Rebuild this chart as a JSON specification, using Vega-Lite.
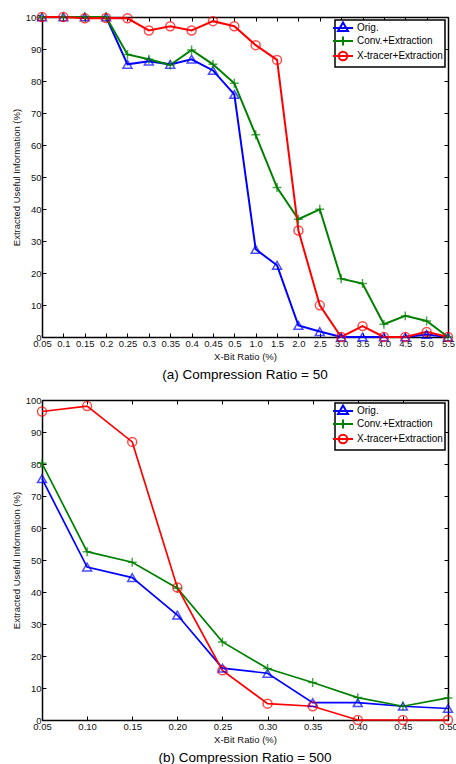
{
  "$schema": "https://vega.github.io/schema/vega-lite/v6.json",
  "padding": {"left": 10, "top": 9, "right": 4, "bottom": 0},
  "background": "white",
  "datasets": {
    "a": [
      {"x": "0.05", "series": "Orig.", "y": 100}, {"x": "0.1", "series": "Orig.", "y": 100}, {"x": "0.15", "series": "Orig.", "y": 100}, {"x": "0.2", "series": "Orig.", "y": 100}, {"x": "0.25", "series": "Orig.", "y": 85.2}, {"x": "0.3", "series": "Orig.", "y": 86.2}, {"x": "0.35", "series": "Orig.", "y": 85.2}, {"x": "0.4", "series": "Orig.", "y": 86.8}, {"x": "0.45", "series": "Orig.", "y": 83.3}, {"x": "0.5", "series": "Orig.", "y": 75.8}, {"x": "1.0", "series": "Orig.", "y": 27.4}, {"x": "1.5", "series": "Orig.", "y": 22.4}, {"x": "2.0", "series": "Orig.", "y": 3.6}, {"x": "2.5", "series": "Orig.", "y": 1.7}, {"x": "3.0", "series": "Orig.", "y": 0}, {"x": "3.5", "series": "Orig.", "y": 0}, {"x": "4.0", "series": "Orig.", "y": 0}, {"x": "4.5", "series": "Orig.", "y": 0}, {"x": "5.0", "series": "Orig.", "y": 0.8}, {"x": "5.5", "series": "Orig.", "y": 0},
      {"x": "0.05", "series": "Conv.+Extraction", "y": 100}, {"x": "0.1", "series": "Conv.+Extraction", "y": 100}, {"x": "0.15", "series": "Conv.+Extraction", "y": 100}, {"x": "0.2", "series": "Conv.+Extraction", "y": 100}, {"x": "0.25", "series": "Conv.+Extraction", "y": 88.3}, {"x": "0.3", "series": "Conv.+Extraction", "y": 86.8}, {"x": "0.35", "series": "Conv.+Extraction", "y": 85}, {"x": "0.4", "series": "Conv.+Extraction", "y": 89.7}, {"x": "0.45", "series": "Conv.+Extraction", "y": 85.2}, {"x": "0.5", "series": "Conv.+Extraction", "y": 79.3}, {"x": "1.0", "series": "Conv.+Extraction", "y": 63.2}, {"x": "1.5", "series": "Conv.+Extraction", "y": 46.7}, {"x": "2.0", "series": "Conv.+Extraction", "y": 36.8}, {"x": "2.5", "series": "Conv.+Extraction", "y": 39.9}, {"x": "3.0", "series": "Conv.+Extraction", "y": 18.2}, {"x": "3.5", "series": "Conv.+Extraction", "y": 16.7}, {"x": "4.0", "series": "Conv.+Extraction", "y": 4.0}, {"x": "4.5", "series": "Conv.+Extraction", "y": 6.6}, {"x": "5.0", "series": "Conv.+Extraction", "y": 5.0}, {"x": "5.5", "series": "Conv.+Extraction", "y": 0},
      {"x": "0.05", "series": "X-tracer+Extraction", "y": 100}, {"x": "0.1", "series": "X-tracer+Extraction", "y": 100}, {"x": "0.15", "series": "X-tracer+Extraction", "y": 99.6}, {"x": "0.2", "series": "X-tracer+Extraction", "y": 99.7}, {"x": "0.25", "series": "X-tracer+Extraction", "y": 99.6}, {"x": "0.3", "series": "X-tracer+Extraction", "y": 95.8}, {"x": "0.35", "series": "X-tracer+Extraction", "y": 97.1}, {"x": "0.4", "series": "X-tracer+Extraction", "y": 95.8}, {"x": "0.45", "series": "X-tracer+Extraction", "y": 98.7}, {"x": "0.5", "series": "X-tracer+Extraction", "y": 97.1}, {"x": "1.0", "series": "X-tracer+Extraction", "y": 91.2}, {"x": "1.5", "series": "X-tracer+Extraction", "y": 86.6}, {"x": "2.0", "series": "X-tracer+Extraction", "y": 33.3}, {"x": "2.5", "series": "X-tracer+Extraction", "y": 9.9}, {"x": "3.0", "series": "X-tracer+Extraction", "y": 0}, {"x": "3.5", "series": "X-tracer+Extraction", "y": 3.4}, {"x": "4.0", "series": "X-tracer+Extraction", "y": 0}, {"x": "4.5", "series": "X-tracer+Extraction", "y": 0}, {"x": "5.0", "series": "X-tracer+Extraction", "y": 1.6}, {"x": "5.5", "series": "X-tracer+Extraction", "y": 0}
    ],
    "b": [
      {"x": 0.05, "series": "Orig.", "y": 75.4}, {"x": 0.10, "series": "Orig.", "y": 47.8}, {"x": 0.15, "series": "Orig.", "y": 44.5}, {"x": 0.20, "series": "Orig.", "y": 32.8}, {"x": 0.25, "series": "Orig.", "y": 16.2}, {"x": 0.30, "series": "Orig.", "y": 14.6}, {"x": 0.35, "series": "Orig.", "y": 5.4}, {"x": 0.40, "series": "Orig.", "y": 5.4}, {"x": 0.45, "series": "Orig.", "y": 4.3}, {"x": 0.50, "series": "Orig.", "y": 3.6},
      {"x": 0.05, "series": "Conv.+Extraction", "y": 80.2}, {"x": 0.10, "series": "Conv.+Extraction", "y": 52.6}, {"x": 0.15, "series": "Conv.+Extraction", "y": 49.3}, {"x": 0.20, "series": "Conv.+Extraction", "y": 41.2}, {"x": 0.25, "series": "Conv.+Extraction", "y": 24.4}, {"x": 0.30, "series": "Conv.+Extraction", "y": 16.1}, {"x": 0.35, "series": "Conv.+Extraction", "y": 11.7}, {"x": 0.40, "series": "Conv.+Extraction", "y": 7.0}, {"x": 0.45, "series": "Conv.+Extraction", "y": 4.3}, {"x": 0.50, "series": "Conv.+Extraction", "y": 6.9},
      {"x": 0.05, "series": "X-tracer+Extraction", "y": 96.4}, {"x": 0.10, "series": "X-tracer+Extraction", "y": 98.1}, {"x": 0.15, "series": "X-tracer+Extraction", "y": 86.9}, {"x": 0.20, "series": "X-tracer+Extraction", "y": 41.4}, {"x": 0.25, "series": "X-tracer+Extraction", "y": 15.5}, {"x": 0.30, "series": "X-tracer+Extraction", "y": 5.1}, {"x": 0.35, "series": "X-tracer+Extraction", "y": 4.3}, {"x": 0.40, "series": "X-tracer+Extraction", "y": 0}, {"x": 0.45, "series": "X-tracer+Extraction", "y": 0}, {"x": 0.50, "series": "X-tracer+Extraction", "y": 0}
    ]
  },
  "config": {
    "font": "Liberation Sans",
    "view": {"stroke": "black", "strokeWidth": 1},
    "axis": {
      "domainColor": "black", "domainWidth": 1.5, "tickColor": "black", "tickWidth": 1,
      "tickSize": -4, "labelPadding": 5, "labelColor": "#111", "labelFontSize": 9.5,
      "titleFontSize": 9.5, "titleFontWeight": "normal", "titleColor": "#111",
      "grid": false, "labelFlush": false, "labelOverlap": false, "labelBound": false, "titlePadding": 4
    },
    "legend": {
      "orient": "top-right", "offset": 3, "strokeColor": "black", "strokeWidth": 1.5,
      "fillColor": "white", "padding": 2, "labelFontSize": 10, "labelColor": "black",
      "symbolSize": 100, "symbolStrokeWidth": 2, "rowPadding": -4, "labelOffset": 8,
      "symbolOpacity": 1, "symbolFillColor": "transparent"
    },
    "title": {"fontSize": 13.5, "fontWeight": "normal", "color": "black", "orient": "bottom", "offset": 7, "frame": "group"}
  },
  "spacing": 12,
  "vconcat": [
    {
      "width": 406, "height": 320,
      "data": {"name": "a"},
      "title": {"text": "(a) Compression Ratio = 50"},
      "layer": [
        {
          "mark": {"type": "line", "strokeWidth": 2},
          "encoding": {
            "x": {"field": "x", "type": "ordinal", "sort": null, "scale": {"type": "point", "padding": 0}, "axis": {"orient": "bottom", "labelAngle": 0, "title": "X-Bit Ratio (%)"}},
            "y": {"field": "y", "type": "quantitative", "scale": {"domain": [0, 100], "nice": false}, "axis": {"orient": "left", "values": [0, 10, 20, 30, 40, 50, 60, 70, 80, 90, 100], "title": "Extracted Useful Information (%)"}},
            "stroke": {"field": "series", "type": "nominal", "scale": {"domain": ["Orig.", "Conv.+Extraction", "X-tracer+Extraction"], "range": ["#0000ff", "#008000", "#ff0000"]}, "legend": null}
          }
        },
        {
          "mark": {"type": "point", "filled": false, "strokeWidth": 1.5, "size": 80},
          "encoding": {
            "x": {"field": "x", "type": "ordinal", "sort": null, "axis": {"orient": "top", "labels": false, "title": null}},
            "y": {"field": "y", "type": "quantitative", "axis": {"orient": "right", "labels": false, "title": null, "values": [0, 10, 20, 30, 40, 50, 60, 70, 80, 90, 100]}},
            "stroke": {"field": "series", "type": "nominal", "legend": null},
            "shape": {"field": "series", "type": "nominal", "scale": {"domain": ["Orig.", "Conv.+Extraction", "X-tracer+Extraction"], "range": ["triangle-up", "M-1,0H1M0,-1V1", "circle"]}, "legend": null}
          }
        },
        {
          "mark": {"type": "point", "filled": false, "opacity": 0},
          "encoding": {
            "x": {"field": "x", "type": "ordinal", "sort": null, "axis": null},
            "y": {"field": "y", "type": "quantitative", "axis": null},
            "color": {"field": "series", "type": "nominal", "scale": {"domain": ["Orig.", "Conv.+Extraction", "X-tracer+Extraction"], "range": ["#0000ff", "#008000", "#ff0000"]}, "legend": {"title": null}},
            "shape": {"field": "series", "type": "nominal", "scale": {"domain": ["Orig.", "Conv.+Extraction", "X-tracer+Extraction"], "range": ["M-2,0H2M0,-1.1L1,0.6H-1Z", "M-2,0H2M0,-0.9V0.9", "M-2,0H2M0.85,0A0.85,0.85,0,0,1,-0.85,0A0.85,0.85,0,0,1,0.85,0"]}, "legend": {"title": null}}
          }
        }
      ],
      "resolve": {"axis": {"x": "independent", "y": "independent"}, "scale": {"shape": "independent", "color": "independent"}, "legend": {"shape": "independent", "color": "independent"}}
    },
    {
      "width": 406, "height": 320,
      "data": {"name": "b"},
      "title": {"text": "(b) Compression Ratio = 500"},
      "layer": [
        {
          "mark": {"type": "line", "strokeWidth": 1.7},
          "encoding": {
            "x": {"field": "x", "type": "quantitative", "scale": {"domain": [0.05, 0.5], "nice": false, "zero": false}, "axis": {"orient": "bottom", "values": [0.05, 0.1, 0.15, 0.2, 0.25, 0.3, 0.35, 0.4, 0.45, 0.5], "format": ".2f", "title": "X-Bit Ratio (%)"}},
            "y": {"field": "y", "type": "quantitative", "scale": {"domain": [0, 100], "nice": false}, "axis": {"orient": "left", "values": [0, 10, 20, 30, 40, 50, 60, 70, 80, 90, 100], "title": "Extracted Useful Information (%)"}},
            "stroke": {"field": "series", "type": "nominal", "scale": {"domain": ["Orig.", "Conv.+Extraction", "X-tracer+Extraction"], "range": ["#0000ff", "#008000", "#ff0000"]}, "legend": null}
          }
        },
        {
          "mark": {"type": "point", "filled": false, "strokeWidth": 1.5, "size": 80},
          "encoding": {
            "x": {"field": "x", "type": "quantitative", "axis": {"orient": "top", "labels": false, "title": null, "values": [0.05, 0.1, 0.15, 0.2, 0.25, 0.3, 0.35, 0.4, 0.45, 0.5]}},
            "y": {"field": "y", "type": "quantitative", "axis": {"orient": "right", "labels": false, "title": null, "values": [0, 10, 20, 30, 40, 50, 60, 70, 80, 90, 100]}},
            "stroke": {"field": "series", "type": "nominal", "legend": null},
            "shape": {"field": "series", "type": "nominal", "scale": {"domain": ["Orig.", "Conv.+Extraction", "X-tracer+Extraction"], "range": ["triangle-up", "M-1,0H1M0,-1V1", "circle"]}, "legend": null}
          }
        },
        {
          "mark": {"type": "point", "filled": false, "opacity": 0},
          "encoding": {
            "x": {"field": "x", "type": "quantitative", "axis": null},
            "y": {"field": "y", "type": "quantitative", "axis": null},
            "color": {"field": "series", "type": "nominal", "scale": {"domain": ["Orig.", "Conv.+Extraction", "X-tracer+Extraction"], "range": ["#0000ff", "#008000", "#ff0000"]}, "legend": {"title": null}},
            "shape": {"field": "series", "type": "nominal", "scale": {"domain": ["Orig.", "Conv.+Extraction", "X-tracer+Extraction"], "range": ["M-2,0H2M0,-1.1L1,0.6H-1Z", "M-2,0H2M0,-0.9V0.9", "M-2,0H2M0.85,0A0.85,0.85,0,0,1,-0.85,0A0.85,0.85,0,0,1,0.85,0"]}, "legend": {"title": null}}
          }
        }
      ],
      "resolve": {"axis": {"x": "independent", "y": "independent"}, "scale": {"shape": "independent", "color": "independent"}, "legend": {"shape": "independent", "color": "independent"}}
    }
  ]
}
